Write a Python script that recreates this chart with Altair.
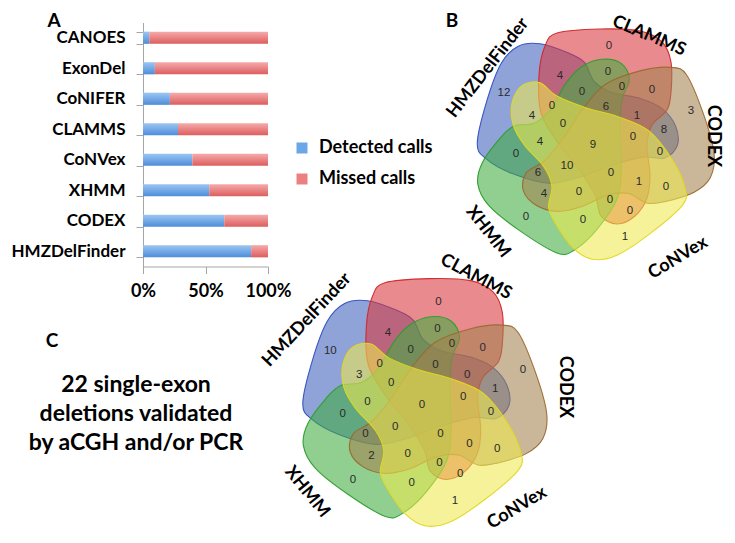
import altair as alt
import pandas as pd

# ------------------------------------------------------------------ data
callers = ["CANOES", "ExonDel", "CoNIFER", "CLAMMS", "CoNVex", "XHMM", "CODEX", "HMZDelFinder"]
detected_pct = [5, 9.5, 21.5, 28, 39.5, 53, 65, 86.5]
missed_pct = [95, 90.5, 78.5, 72, 60.5, 47, 35, 13.5]
series = ["Detected calls", "Missed calls"]
series_colors = ["#6aa6e8", "#ec8080"]

venn_sets = ["HMZDelFinder", "CLAMMS", "XHMM", "CODEX", "CoNVex"]
venn_b_counts = [12, 4, 0, 0, 0, 0, 3, 6, 0, 0, 4, 0, 1, 8, 0, 9, 4, 0, 0, 6, 10, 0, 1, 0, 4, 0, 0, 0, 0, 0, 1]
venn_c_counts = [10, 4, 0, 0, 0, 0, 0, 0, 0, 0, 3, 0, 0, 1, 0, 0, 0, 0, 0, 0, 0, 0, 0, 0, 2, 0, 0, 0, 0, 0, 1]
c_text = ["22 single-exon", "deletions validated", "by aCGH and/or PCR"]

# ------------------------------------------------------------------ layout / style
W, H = 719, 526
FONT = "Lato"
set_fill = {"HMZDelFinder": "#3f61bc", "CLAMMS": "#d9373c", "CODEX": "#a38250",
            "CoNVex": "#eee950", "XHMM": "#3fac3f"}
set_stroke = {"HMZDelFinder": "#3050c0", "CLAMMS": "#d02828", "CODEX": "#9a6a30",
              "CoNVex": "#e0d820", "XHMM": "#2c9e2c"}
set_rot = {"CLAMMS": 0, "CODEX": 72, "CoNVex": 144, "XHMM": 216, "HMZDelFinder": 288}

# outline of one set (CLAMMS orientation), px relative to diagram centre
OUTLINE = [(-36, -110), (7, -114), (47, -112), (69, -101), (78, -81), (78, -51), (74, -33),
           (59, -18), (54, 2), (57, 32), (54, 55), (42, 73), (24, 81), (8, 73), (2, 52),
           (-15, 25), (-35, 0), (-52, -30), (-54, -68), (-48, -97)]

REGION_OFFSETS = [(-89, -50), (-33, -67), (16, -97), (15, -71), (29, -56), (59, -53), (98, -32),
                  (13, -36), (-11, -51), (-41, -37), (-61, -27), (-30, -19), (44, -27), (71, -13),
                  (40, -6), (0, 2), (-53, -1), (67, 9), (-77, 11), (-55, 30), (-26, 23), (18, 30),
                  (46, 39), (73, 44), (-49, 51), (-14, 49), (17, 57), (37, 68), (-67, 74),
                  (-10, 77), (32, 94)]

diagrams = {
    "B": {"center": (593, 143), "scale": 1.0, "num_scale": (1.0, 1.0), "counts": venn_b_counts,
          "nudge": {"CoNVex": (-4, -6)},
          "labels": {"HMZDelFinder": (488, 68, 308), "CLAMMS": (649, 36, 23), "CODEX": (713, 136, 90),
                     "CoNVex": (678, 258, 329), "XHMM": (488, 232, 52)}},
    "C": {"center": (422, 403), "scale": 1.03, "num_scale": (1.03, 1.045), "counts": venn_c_counts,
          "nudge": {"CLAMMS": (0, -7), "CoNVex": (0, -3)},
          "labels": {"HMZDelFinder": (307, 320, 313), "CLAMMS": (476, 277, 28), "CODEX": (565, 387, 90),
                     "CoNVex": (517, 508, 329), "XHMM": (307, 492, 51)}},
}


def smooth_path(pts, unit=100.0):
    P = [(x / unit, y / unit) for x, y in pts]
    n = len(P)
    d = "M %.4f %.4f" % P[0]
    for i in range(n):
        p0, p1, p2, p3 = P[i - 1], P[i], P[(i + 1) % n], P[(i + 2) % n]
        c1 = (p1[0] + (p2[0] - p0[0]) / 6, p1[1] + (p2[1] - p0[1]) / 6)
        c2 = (p2[0] - (p3[0] - p1[0]) / 6, p2[1] - (p3[1] - p1[1]) / 6)
        d += " C %.4f %.4f %.4f %.4f %.4f %.4f" % (c1[0], c1[1], c2[0], c2[1], p2[0], p2[1])
    return d + " Z"


SHAPE = smooth_path(OUTLINE)

shape_rows, num_rows, lab_rows = [], [], []
for key, dg in diagrams.items():
    cx, cy = dg["center"]
    s = dg["scale"]
    for k, name in enumerate(venn_sets):
        nx, ny = dg["nudge"].get(name, (0, 0))
        shape_rows.append({"x": cx + nx, "y": cy + ny, "set": name, "angle": set_rot[name],
                           "fill": set_fill[name], "stroke": set_stroke[name],
                           "size": (200 * s) ** 2, "order": k})
        lx, ly, la = dg["labels"][name]
        lab_rows.append({"x": lx, "y": ly, "angle": la, "text": name})
    sx, sy = dg["num_scale"]
    for (dx, dy), v in zip(REGION_OFFSETS, dg["counts"]):
        num_rows.append({"x": cx + dx * sx, "y": cy + dy * sy, "text": str(v)})

shape_df = pd.DataFrame(shape_rows)
num_df = pd.DataFrame(num_rows)
lab_df = pd.DataFrame(lab_rows)
letters_df = pd.DataFrame({"x": [54, 452, 52], "y": [21, 21, 341], "text": ["A", "B", "C"]})
ctext_df = pd.DataFrame({"x": [136] * 3, "y": [385, 414, 443], "text": c_text})

xs = alt.Scale(domain=[8, 8 + W])
ys = alt.Scale(domain=[8, 8 + H], reverse=True)
X = lambda: alt.X("x:Q", scale=xs, axis=None)
Y = lambda: alt.Y("y:Q", scale=ys, axis=None)

shapes = alt.Chart(shape_df).mark_point(
    shape=SHAPE, filled=True, opacity=1, fillOpacity=0.58, strokeOpacity=0.95, strokeWidth=1.1
).encode(
    x=X(), y=Y(),
    fill=alt.Fill("fill:N", scale=None),
    stroke=alt.Stroke("stroke:N", scale=None),
    angle=alt.Angle("angle:Q", scale=None),
    size=alt.Size("size:Q", scale=None),
    order=alt.Order("order:Q"),
)

numbers = alt.Chart(num_df).mark_text(
    font="Liberation Sans", fontSize=11.5, color="#2a2a2a", align="center", baseline="middle"
).encode(x=X(), y=Y(), text="text:N")

set_labels = alt.Chart(lab_df).mark_text(
    font=FONT, fontSize=18, fontWeight="bold", color="black", align="center", baseline="middle"
).encode(x=X(), y=Y(), text="text:N", angle=alt.Angle("angle:Q", scale=None))

letters = alt.Chart(letters_df).mark_text(
    font=FONT, fontSize=19, fontWeight="bold", color="black", align="center", baseline="middle"
).encode(x=X(), y=Y(), text="text:N")

ctext = alt.Chart(ctext_df).mark_text(
    font=FONT, fontSize=23, fontWeight="bold", color="black", align="center", baseline="middle"
).encode(x=X(), y=Y(), text="text:N")

venn = alt.layer(shapes, numbers, set_labels, letters, ctext)

# ------------------------------------------------------------------ bar chart (panel A)
bar_rows = []
for c, d, m in zip(callers, detected_pct, missed_pct):
    bar_rows.append({"caller": c, "series": series[0], "start": 0.0, "end": d / 100})
    bar_rows.append({"caller": c, "series": series[1], "start": d / 100, "end": (d + m) / 100})
bar_df = pd.DataFrame(bar_rows)

x_axis = alt.Axis(orient="bottom", offset=258.5 - H, values=[0, 0.5, 1], format="%",
                  title=None, grid=False, domainColor="#a6a6a6", tickColor="#a6a6a6",
                  tickSize=7, labelFont=FONT, labelFontSize=18, labelFontWeight="bold",
                  labelColor="black", labelPadding=9, labelFlush=False, labelOverlap=False)
y_axis = alt.Axis(orient="left", offset=-135, title=None, tickBand="extent",
                  domainColor="#a6a6a6", tickColor="#a6a6a6", tickSize=7,
                  labelFont=FONT, labelFontSize=17, labelFontWeight="bold",
                  labelColor="black", labelPadding=11)
bx = lambda: alt.X("start:Q", scale=alt.Scale(domain=[0, 1], range=[135, 260], nice=False, zero=True),
                   axis=x_axis)
by = lambda: alt.Y("caller:N", sort=callers,
                   scale=alt.Scale(domain=callers, range=[14.5, 258.5], paddingInner=0.6,
                                   paddingOuter=0.3),
                   axis=y_axis)


def grad(top, bottom):
    return alt.Gradient(gradient="linear", x1=0, x2=0, y1=0, y2=1,
                        stops=[alt.GradientStop(color=top, offset=0),
                               alt.GradientStop(color=bottom, offset=1)])


bars_det = alt.Chart(bar_df).transform_filter(alt.datum.series == series[0]).mark_bar(
    fill=grad("#9cc6f3", "#4d8cda")).encode(x=bx(), x2="end:Q", y=by())
bars_mis = alt.Chart(bar_df).transform_filter(alt.datum.series == series[1]).mark_bar(
    fill=grad("#f6abab", "#dc5d5d")).encode(x=bx(), x2="end:Q", y=by())
bars_leg = alt.Chart(bar_df).mark_bar(opacity=0).encode(
    x=bx(), x2="end:Q", y=by(),
    color=alt.Color("series:N", scale=alt.Scale(domain=series, range=series_colors),
                    legend=alt.Legend(orient="none", legendX=285, legendY=131, title=None,
                                      symbolType="square", symbolSize=121, symbolStrokeWidth=0,
                                      symbolOpacity=1,
                                      labelFont=FONT, labelFontSize=18, labelFontWeight="bold",
                                      labelColor="black", labelOffset=8, rowPadding=13, padding=0)),
)
bars = alt.layer(bars_det, bars_mis, bars_leg)

chart = alt.layer(bars, venn).resolve_scale(
    x="independent", y="independent"
).properties(
    width=W, height=H, padding=0, autosize=alt.AutoSizeParams(type="none")
).configure_view(strokeWidth=0)

chart.save("out.html", embed_options={"renderer": "svg", "actions": False})
